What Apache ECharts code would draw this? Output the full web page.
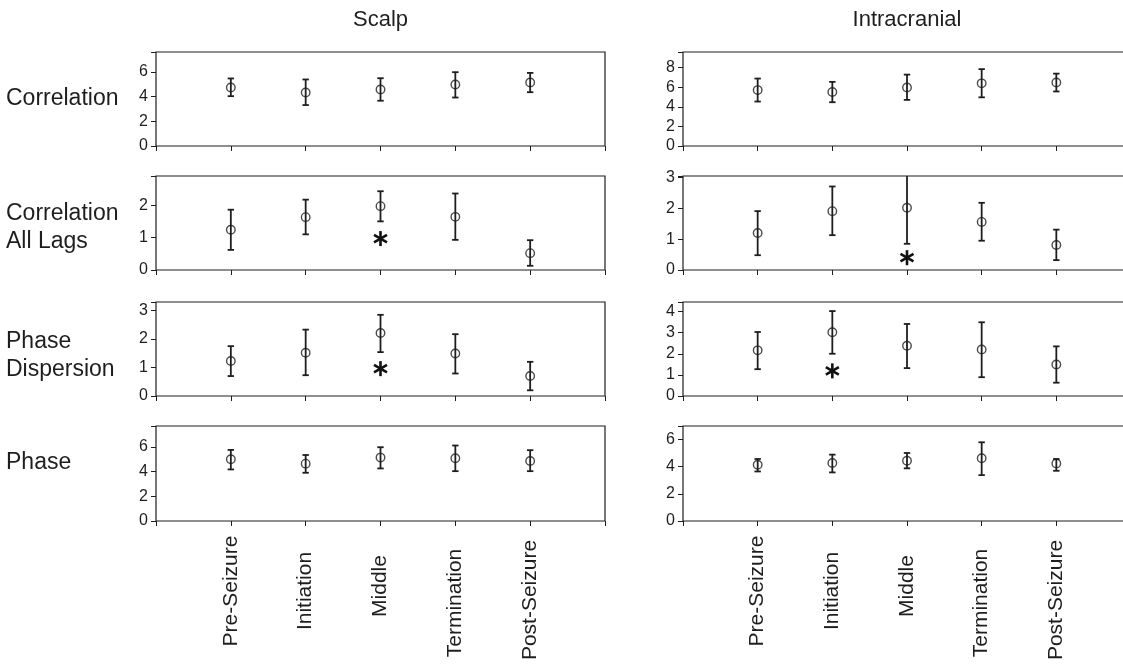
<!DOCTYPE html>
<html><head><meta charset="utf-8">
<script src="https://cdn.jsdelivr.net/npm/echarts@6/dist/echarts.min.js"></script>
<style>html,body{margin:0;padding:0;background:#fff}#c{width:1123px;height:664px}</style>
</head><body><div id="c"></div>
<script>
const categories = ['Pre-Seizure', 'Initiation', 'Middle', 'Termination', 'Post-Seizure'];
const panelTitles = ['Scalp', 'Intracranial'];
const rowLabels = ['Correlation', 'Correlation\nAll Lags', 'Phase\nDispersion', 'Phase'];

// Scalp: mean, lower and upper end of error bar
const scalpCorrMean = [4.73, 4.33, 4.57, 4.97, 5.13];
const scalpCorrLow  = [4.03, 3.31, 3.66, 3.92, 4.35];
const scalpCorrHigh = [5.46, 5.38, 5.48, 5.97, 5.91];
const scalpLagsMean = [1.24, 1.63, 1.97, 1.64, 0.52];
const scalpLagsLow  = [0.62, 1.10, 1.50, 0.93, 0.13];
const scalpLagsHigh = [1.86, 2.17, 2.43, 2.36, 0.92];
const scalpDispMean = [1.23, 1.52, 2.21, 1.49, 0.70];
const scalpDispLow  = [0.70, 0.73, 1.54, 0.79, 0.20];
const scalpDispHigh = [1.75, 2.33, 2.85, 2.17, 1.20];
const scalpPhaseMean = [5.00, 4.65, 5.14, 5.08, 4.86];
const scalpPhaseLow  = [4.18, 3.91, 4.26, 4.04, 4.04];
const scalpPhaseHigh = [5.76, 5.35, 5.98, 6.12, 5.74];

// Intracranial
const icCorrMean = [5.71, 5.51, 5.98, 6.40, 6.48];
const icCorrLow  = [4.54, 4.47, 4.71, 4.97, 5.57];
const icCorrHigh = [6.89, 6.55, 7.29, 7.85, 7.39];
const icLagsMean = [1.20, 1.91, 2.02, 1.56, 0.81];
const icLagsLow  = [0.48, 1.13, 0.85, 0.95, 0.32];
const icLagsHigh = [1.91, 2.71, 3.30, 2.18, 1.31];
const icDispMean = [2.16, 3.02, 2.38, 2.20, 1.49];
const icDispLow  = [1.27, 2.00, 1.32, 0.89, 0.63];
const icDispHigh = [3.03, 4.02, 3.41, 3.49, 2.35];
const icPhaseMean = [4.15, 4.27, 4.44, 4.62, 4.24];
const icPhaseLow  = [3.65, 3.58, 3.88, 3.38, 3.70];
const icPhaseHigh = [4.57, 4.89, 5.01, 5.80, 4.57];

// significance asterisks (y position), null = none
const scalpLagsStar = [null, null, 0.97, null, null];
const scalpDispStar = [null, null, 0.96, null, null];
const icLagsStar = [null, null, 0.40, null, null];
const icDispStar = [null, 1.19, null, null, null];

// y-axis ranges and tick steps per row
const yMaxScalp = [7.6, 2.9, 3.3, 7.7];
const yMaxIc = [9.6, 3.05, 4.45, 7.0];
const yStep = [2, 1, 1, 2];

const panels = [
  [ {m: scalpCorrMean, l: scalpCorrLow, h: scalpCorrHigh, s: null},
    {m: icCorrMean, l: icCorrLow, h: icCorrHigh, s: null} ],
  [ {m: scalpLagsMean, l: scalpLagsLow, h: scalpLagsHigh, s: scalpLagsStar},
    {m: icLagsMean, l: icLagsLow, h: icLagsHigh, s: icLagsStar} ],
  [ {m: scalpDispMean, l: scalpDispLow, h: scalpDispHigh, s: scalpDispStar},
    {m: icDispMean, l: icDispLow, h: icDispHigh, s: icDispStar} ],
  [ {m: scalpPhaseMean, l: scalpPhaseLow, h: scalpPhaseHigh, s: null},
    {m: icPhaseMean, l: icPhaseLow, h: icPhaseHigh, s: null} ]
];
const yMax = [yMaxScalp, yMaxIc];

// layout
const FONT = '"Liberation Sans", Arial, Helvetica, sans-serif';
const INK = '#1e1e1e';
const colLeft = [156, 683];
const colWidth = [449, 448];
const rowTop = [52, 176, 302, 426];
const rowHeight = [94, 94, 94, 95];
const rowLabelY = [99, 228, 356, 463];
// per-label padding [top, right, bottom, left] used to nudge the rotated category labels
const catPad = [[0, 0, 0, 0], [0, 0, 0, 0], [0, 0, 0, 10], [0, 24, 0, 0], [0, 18, 0, 0]];

function errorBarRender(params, api) {
  const x = api.value(0), lo = api.value(1), hi = api.value(2);
  const cs = params.coordSys;
  const pTop = api.coord([x, hi]);
  const pBot = api.coord([x, lo]);
  const topClip = pTop[1] < cs.y;
  const botClip = pBot[1] > cs.y + cs.height;
  const yT = Math.max(pTop[1], cs.y);
  const yB = Math.min(pBot[1], cs.y + cs.height);
  const hw = 3.2;
  const style = {stroke: INK, lineWidth: 1.8};
  const ch = [{type: 'line', shape: {x1: pTop[0], y1: yT, x2: pTop[0], y2: yB}, style}];
  if (!topClip) ch.push({type: 'line', shape: {x1: pTop[0] - hw, y1: yT, x2: pTop[0] + hw, y2: yT}, style});
  if (!botClip) ch.push({type: 'line', shape: {x1: pBot[0] - hw, y1: yB, x2: pBot[0] + hw, y2: yB}, style});
  return {type: 'group', children: ch};
}
function starRender(params, api) {
  const p = api.coord([api.value(0), api.value(1)]);
  const r = 7.5;
  const style = {stroke: '#111', lineWidth: 2.6};
  const ch = [];
  for (let k = 0; k < 3; k++) {
    const a = Math.PI / 2 + k * Math.PI / 3;
    ch.push({type: 'line', shape: {x1: p[0] - r * Math.cos(a), y1: p[1] - r * Math.sin(a),
      x2: p[0] + r * Math.cos(a), y2: p[1] + r * Math.sin(a)}, style});
  }
  return {type: 'group', children: ch};
}

const rich = {};
catPad.forEach((pd, i) => { rich['t' + i] = {padding: pd, fontSize: 21, color: INK, fontFamily: FONT}; });

const grid = [], xAxis = [], yAxis = [], series = [];
const tickOut = {inside: false, length: 5, lineStyle: {color: INK, width: 1}};
const tickIn = {inside: true, length: 5, lineStyle: {color: INK, width: 1}};
for (let r = 0; r < 4; r++) {
  for (let c = 0; c < 2; c++) {
    const g = grid.length;
    grid.push({left: colLeft[c], top: rowTop[r], width: colWidth[c], height: rowHeight[r],
      show: true, borderColor: INK, borderWidth: 1.2, backgroundColor: 'transparent',
      containLabel: false, outerBoundsMode: 'none'});
    const isBottom = r === 3;
    const xBase = {gridIndex: g, type: 'value', min: 0, max: 6, interval: 1,
      axisLine: {show: false}, splitLine: {show: false}};
    xAxis.push(Object.assign({}, xBase, {position: 'bottom', axisTick: tickOut,
      axisLabel: isBottom ? {
        show: true, rotate: 90, align: 'center', verticalAlign: 'middle', margin: 70,
        fontSize: 21, color: INK, fontFamily: FONT, rich,
        formatter: v => (v >= 1 && v <= 5) ? '{t' + (v - 1) + '|' + categories[v - 1] + '}' : ''
      } : {show: false}}));
    xAxis.push(Object.assign({}, xBase, {position: 'top', axisTick: tickIn, axisLabel: {show: false}}));
    const yBase = {gridIndex: g, type: 'value', min: 0, max: yMax[c][r], interval: yStep[r],
      axisLine: {show: false}, splitLine: {show: false}};
    yAxis.push(Object.assign({}, yBase, {position: 'left', axisTick: tickOut,
      axisLabel: {show: true, fontSize: 16, color: INK, fontFamily: FONT, margin: 8, showMaxLabel: false}}));
    yAxis.push(Object.assign({}, yBase, {position: 'right', axisTick: tickIn, axisLabel: {show: false}}));

    const p = panels[r][c];
    const xi = g * 2, yi = g * 2;
    series.push({type: 'custom', xAxisIndex: xi, yAxisIndex: yi, renderItem: errorBarRender,
      data: p.m.map((_, i) => [i + 1, p.l[i], p.h[i]]), z: 2, silent: true});
    series.push({type: 'scatter', xAxisIndex: xi, yAxisIndex: yi, symbol: 'circle', symbolSize: 8.5,
      itemStyle: {color: 'rgba(0,0,0,0)', borderColor: INK, borderWidth: 1.4},
      data: p.m.map((v, i) => [i + 1, v]), z: 3, silent: true});
    if (p.s) {
      series.push({type: 'custom', xAxisIndex: xi, yAxisIndex: yi, renderItem: starRender,
        data: p.s.map((v, i) => v == null ? null : [i + 1, v]).filter(d => d), z: 3, silent: true});
    }
  }
}

const graphic = [];
panelTitles.forEach((t, c) => {
  graphic.push({type: 'text', x: colLeft[c] + colWidth[c] / 2, y: 20, silent: true,
    style: {text: t, align: 'center', verticalAlign: 'middle', fontSize: 22, fill: INK, fontFamily: FONT}});
});
rowLabels.forEach((t, r) => {
  graphic.push({type: 'text', x: 6, y: rowLabelY[r], silent: true,
    style: {text: t, align: 'left', verticalAlign: 'middle', fontSize: 23, lineHeight: 28, fill: INK, fontFamily: FONT}});
});

const chart = echarts.init(document.getElementById('c'), null, {renderer: 'canvas'});
chart.setOption({animation: false, backgroundColor: '#fff', grid, xAxis, yAxis, series, graphic});
</script></body></html>
